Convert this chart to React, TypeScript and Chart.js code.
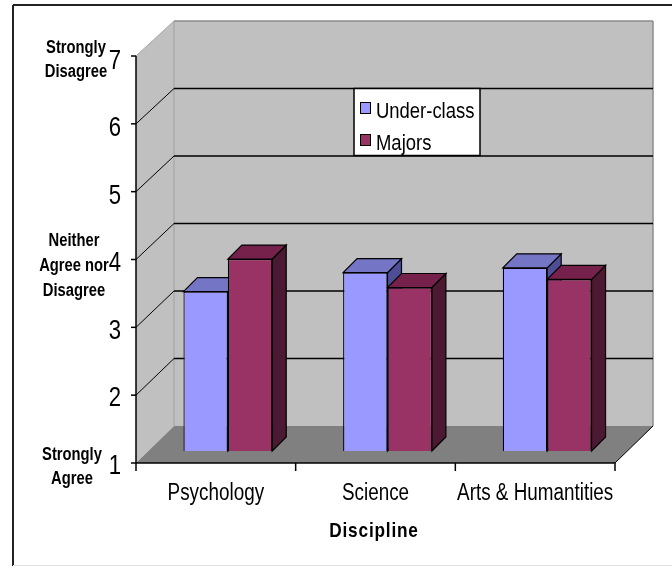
import React, { useEffect, useRef } from "react";
import { Chart, registerables } from "chart.js";

Chart.register(...registerables);

// ---------- data ----------
const categories = ["Psychology", "Science", "Arts & Humantities"];
const seriesNames = ["Under-class", "Majors"];
const underClass = [3.35, 3.63, 3.7];
const majors = [3.83, 3.41, 3.53];
const yMin = 1;
const yMax = 7;
const anchorValues = [7, 4, 1];
const anchorLabels = [
  ["Strongly", "Disagree"],
  ["Neither", "Agree nor", "Disagree"],
  ["Strongly", "Agree"],
];
const axisTitle = "Discipline";

// ---------- styles ----------
const SANS = "'Liberation Sans', Arial, sans-serif";
const NARROW_X = 0.82; // horizontal squeeze to mimic a narrow face
const frontFill = ["#9999FF", "#993366"];
const topFill = ["#7575C5", "#76204C"];
const sideFill = ["#4E4E96", "#4C1932"];
const FRONT = { dx: -12, dy: 12 };
const BACK = { dx: 26, dy: -25 };
const BAR_DEPTH = 14;
const anchorCenterX = [76, 74, 72];

function poly(ctx: CanvasRenderingContext2D, pts: number[][], fill?: string, stroke?: string, lw = 1) {
  ctx.beginPath();
  ctx.moveTo(pts[0][0], pts[0][1]);
  for (let i = 1; i < pts.length; i++) ctx.lineTo(pts[i][0], pts[i][1]);
  ctx.closePath();
  if (fill) {
    ctx.fillStyle = fill;
    ctx.fill();
  }
  if (stroke) {
    ctx.strokeStyle = stroke;
    ctx.lineWidth = lw;
    ctx.stroke();
  }
}

function line(ctx: CanvasRenderingContext2D, x1: number, y1: number, x2: number, y2: number, color: string, lw = 1) {
  ctx.beginPath();
  ctx.moveTo(x1, y1);
  ctx.lineTo(x2, y2);
  ctx.strokeStyle = color;
  ctx.lineWidth = lw;
  ctx.stroke();
}

function text(
  ctx: CanvasRenderingContext2D,
  s: string,
  x: number,
  y: number,
  font: string,
  align: CanvasTextAlign,
  spacing = 0
) {
  ctx.save();
  ctx.translate(x, y);
  ctx.scale(NARROW_X, 1);
  ctx.font = font;
  ctx.fillStyle = "#000000";
  ctx.textAlign = align;
  ctx.textBaseline = "alphabetic";
  (ctx as any).letterSpacing = spacing + "px";
  ctx.fillText(s, 0, 0);
  ctx.restore();
}

const threeD = {
  id: "threeD",
  beforeDraw(chart: any) {
    const { ctx, width, height } = chart;
    ctx.save();
    ctx.fillStyle = "#FFFFFF";
    ctx.fillRect(0, 0, width, height);
    line(ctx, 13, 5, width, 5, "#222222", 2);
    line(ctx, 13, 5, 13, height - 1, "#222222", 2);
    line(ctx, 13, height - 1.5, width, height - 1.5, "#E0E0E0", 1);
    ctx.restore();
  },
  beforeDatasetsDraw(chart: any) {
    const { ctx, chartArea: a, scales } = chart;
    const y = scales.y;
    const L = a.left;
    const R = a.right;
    const T = y.getPixelForValue(yMax);
    const B = y.getPixelForValue(yMin);
    const f = FRONT;
    const b = BACK;
    const bt = b.dy + 2; // slight perspective at the top of the back wall
    ctx.save();
    // back wall
    poly(ctx, [[L + b.dx, T + bt], [R + b.dx, T + bt], [R + b.dx, B + b.dy], [L + b.dx, B + b.dy]], "#C0C0C0");
    // side wall
    poly(ctx, [[L + f.dx, T + f.dy], [L + b.dx, T + bt], [L + b.dx, B + b.dy], [L + f.dx, B + f.dy]], "#C0C0C0");
    // floor
    poly(ctx, [[L + f.dx, B + f.dy], [R + f.dx, B + f.dy], [R + b.dx, B + b.dy], [L + b.dx, B + b.dy]], "#808080");
    // wall edges
    line(ctx, L + b.dx, T + bt, R + b.dx, T + bt, "#8C8C8C", 1.5);
    line(ctx, R + b.dx, T + bt, R + b.dx, B + b.dy, "#8C8C8C", 1.5);
    line(ctx, L + b.dx, T + bt, L + b.dx, B + b.dy, "#A0A0A0", 1);
    line(ctx, L + f.dx, T + f.dy, L + b.dx, T + bt, "#A8A8A8", 1);
    // gridlines
    for (const t of y.ticks) {
      const v = t.value;
      if (v <= yMin || v >= yMax) continue;
      const py = y.getPixelForValue(v);
      const k = (v - yMin) / (yMax - yMin);
      const dyb = b.dy + 2 * k;
      line(ctx, L + b.dx, py + dyb, R + b.dx, py + dyb, "#000000", 1.3);
      line(ctx, L + f.dx, py + f.dy, L + b.dx, py + dyb, "#000000", 1);
    }
    // floor right edge
    line(ctx, R + f.dx, B + f.dy, R + b.dx, B + b.dy, "#000000", 1);
    // y axis front line and ticks
    line(ctx, L + f.dx, T + f.dy, L + f.dx, B + f.dy, "#000000", 1.5);
    for (const t of y.ticks) {
      const py = y.getPixelForValue(t.value) + f.dy;
      line(ctx, L + f.dx - 5, py, L + f.dx, py, "#000000", 1.5);
    }
    // x axis line and ticks
    line(ctx, L + f.dx, B + f.dy, R + f.dx, B + f.dy, "#000000", 1.5);
    const n = categories.length;
    for (let i = 0; i <= n; i++) {
      const px = L + f.dx + ((R - L) * i) / n;
      line(ctx, px, B + f.dy, px, B + f.dy + 8, "#000000", 1.5);
    }
    // bar sides and tops
    const d = BAR_DEPTH;
    chart.data.datasets.forEach((ds: any, di: number) => {
      const meta = chart.getDatasetMeta(di);
      meta.data.forEach((el: any) => {
        const left = el.x - el.width / 2;
        const right = el.x + el.width / 2;
        const top = el.y;
        const bottom = Math.min(el.base, B);
        poly(ctx, [[right, top], [right + d, top - d], [right + d, bottom - d], [right, bottom]], sideFill[di], "#000000", 1.2);
        poly(ctx, [[left, top], [right, top], [right + d, top - d], [left + d, top - d]], topFill[di], "#000000", 1.2);
      });
    });
    ctx.restore();
  },
  afterDatasetsDraw(chart: any) {
    const { ctx, chartArea: a, scales } = chart;
    const x = scales.x;
    const y = scales.y;
    ctx.save();
    // legend
    const lx = 354, ly = 88.5, lw = 126, lh = 67;
    ctx.fillStyle = "#FFFFFF";
    ctx.fillRect(lx, ly, lw, lh);
    ctx.strokeStyle = "#000000";
    ctx.lineWidth = 1.5;
    ctx.strokeRect(lx, ly, lw, lh);
    chart.data.datasets.forEach((ds: any, i: number) => {
      const base = 118 + i * 32;
      ctx.fillStyle = frontFill[i];
      ctx.fillRect(lx + 6, base - 16, 10, 11);
      ctx.strokeStyle = "#000000";
      ctx.lineWidth = 1;
      ctx.strokeRect(lx + 6.5, base - 15.5, 10, 11);
      text(ctx, ds.label, lx + 22, base, `22.5px ${SANS}`, "left");
    });
    // y tick numbers (front axis)
    for (const t of y.ticks) {
      const py = y.getPixelForValue(t.value) + FRONT.dy;
      text(ctx, String(t.label), a.left + FRONT.dx - 15, py + 10.5 + 0.35 * (t.value - yMin), `27px ${SANS}`, "right");
    }
    // anchor labels
    anchorValues.forEach((v, i) => {
      const py = y.getPixelForValue(v) + FRONT.dy;
      const lines = anchorLabels[i];
      const n = lines.length;
      const lhh = n === 3 ? 25 : 23.5;
      const start = py + 8 - (n - 1) * 11;
      lines.forEach((s, k) => text(ctx, s, anchorCenterX[i], start + k * lhh, `bold 18px ${SANS}`, "center"));
    });
    // x category labels
    const lbls = x.getLabels();
    lbls.forEach((s: string, i: number) => {
      const px = x.getPixelForValue(i) + FRONT.dx;
      text(ctx, s, px, y.getPixelForValue(yMin) + FRONT.dy + 36.5, `23px ${SANS}`, "center");
    });
    // axis title
    text(ctx, axisTitle, 374, 537, `bold 21px ${SANS}`, "center", 1);
    ctx.restore();
  },
};

export default function App() {
  const ref = useRef<HTMLCanvasElement | null>(null);
  useEffect(() => {
    if (!ref.current) return;
    const chart = new Chart(ref.current, {
      type: "bar",
      data: {
        labels: categories,
        datasets: [
          {
            label: seriesNames[0],
            data: underClass,
            base: yMin,
            backgroundColor: frontFill[0],
            borderColor: "#000000",
            borderWidth: 1.2,
            categoryPercentage: 0.556,
            barPercentage: 1,
          },
          {
            label: seriesNames[1],
            data: majors,
            base: yMin,
            backgroundColor: frontFill[1],
            borderColor: "#000000",
            borderWidth: 1.2,
            categoryPercentage: 0.556,
            barPercentage: 1,
          },
        ],
      },
      options: {
        responsive: false,
        animation: false,
        devicePixelRatio: 1,
        layout: { padding: { top: 44, right: 45, bottom: 0, left: 0 } },
        plugins: { legend: { display: false }, tooltip: { enabled: false } },
        scales: {
          x: {
            grid: { display: false, drawTicks: false },
            border: { display: false },
            ticks: { display: false, autoSkip: false },
            afterFit: (s: any) => {
              s.height = 116;
            },
          },
          y: {
            min: yMin,
            max: yMax,
            grid: { display: false, drawTicks: false },
            border: { display: false },
            ticks: { display: false, stepSize: 1 },
            afterFit: (s: any) => {
              s.width = 148;
            },
          },
        },
      },
      plugins: [threeD],
    });
    return () => chart.destroy();
  }, []);
  return (
    <div style={{ position: "fixed", left: 0, top: 0, width: 672, height: 567 }}>
      <canvas ref={ref} width={672} height={567} style={{ display: "block" }} />
    </div>
  );
}
